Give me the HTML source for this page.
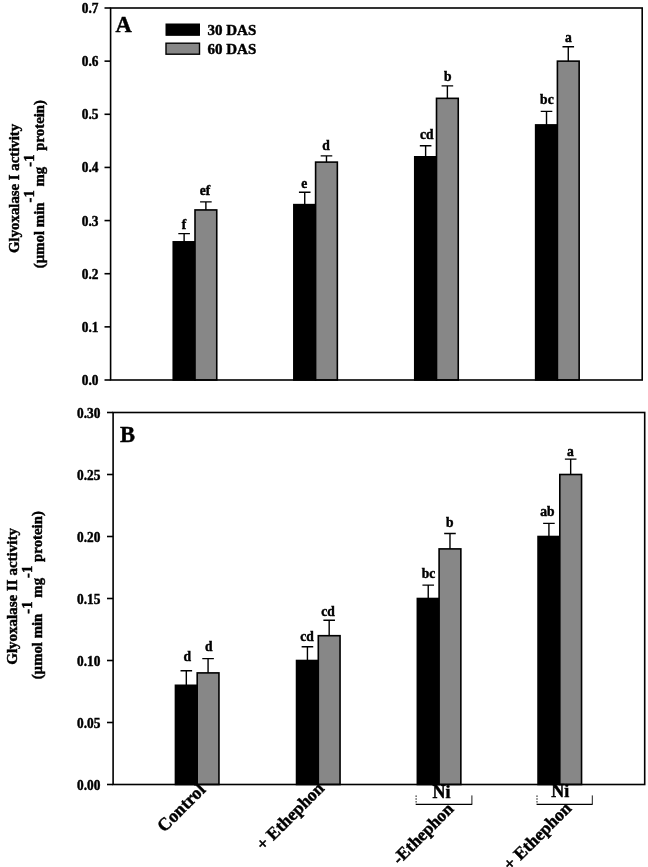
<!DOCTYPE html>
<html><head><meta charset="utf-8"><title>Glyoxalase activity</title>
<style>html,body{margin:0;padding:0;background:#fff;}body{width:648px;height:867px;overflow:hidden;}svg{display:block;filter:grayscale(1);}text{font-family:"Liberation Serif",serif;font-weight:bold;fill:#000;stroke:#000;stroke-width:0.45px;}</style>
</head><body>
<svg width="648" height="867" viewBox="0 0 648 867">
<rect x="0" y="0" width="648" height="867" fill="#fff"/>
<path d="M184.12 241.83V233.6M178.32 233.6H189.93" stroke="#000" stroke-width="1.4" fill="none"/>
<rect x="173.25" y="241.83" width="21.75" height="138.17" fill="#000" stroke="#000" stroke-width="1.6"/>
<text transform="translate(183.9 229.2) scale(0.95 1)" font-size="14.3" text-anchor="middle">f</text>
<path d="M205.88 209.94V201.9M200.07 201.9H211.68" stroke="#000" stroke-width="1.4" fill="none"/>
<rect x="195" y="209.94" width="21.75" height="170.06" fill="#878787" stroke="#000" stroke-width="1.6"/>
<text transform="translate(205 194.7) scale(0.95 1)" font-size="14.3" text-anchor="middle">ef</text>
<path d="M304.73 204.63V192.3M298.93 192.3H310.53" stroke="#000" stroke-width="1.4" fill="none"/>
<rect x="293.85" y="204.63" width="21.75" height="175.37" fill="#000" stroke="#000" stroke-width="1.6"/>
<text transform="translate(304.3 188) scale(0.95 1)" font-size="14.3" text-anchor="middle">e</text>
<path d="M326.48 162.11V155.9M320.68 155.9H332.28" stroke="#000" stroke-width="1.4" fill="none"/>
<rect x="315.6" y="162.11" width="21.75" height="217.89" fill="#878787" stroke="#000" stroke-width="1.6"/>
<text transform="translate(326.1 150) scale(0.95 1)" font-size="14.3" text-anchor="middle">d</text>
<path d="M425.62 156.8V145.8M419.82 145.8H431.43" stroke="#000" stroke-width="1.4" fill="none"/>
<rect x="414.75" y="156.8" width="21.75" height="223.2" fill="#000" stroke="#000" stroke-width="1.6"/>
<text transform="translate(426.8 139.4) scale(0.95 1)" font-size="14.3" text-anchor="middle">cd</text>
<path d="M447.38 98.34V85.9M441.57 85.9H453.18" stroke="#000" stroke-width="1.4" fill="none"/>
<rect x="436.5" y="98.34" width="21.75" height="281.66" fill="#878787" stroke="#000" stroke-width="1.6"/>
<text transform="translate(447.7 81.2) scale(0.95 1)" font-size="14.3" text-anchor="middle">b</text>
<path d="M546.52 124.91V111.4M540.73 111.4H552.32" stroke="#000" stroke-width="1.4" fill="none"/>
<rect x="535.65" y="124.91" width="21.75" height="255.09" fill="#000" stroke="#000" stroke-width="1.6"/>
<text transform="translate(546.9 104.1) scale(0.95 1)" font-size="14.3" text-anchor="middle">bc</text>
<path d="M568.27 61.14V46.8M562.48 46.8H574.07" stroke="#000" stroke-width="1.4" fill="none"/>
<rect x="557.4" y="61.14" width="21.75" height="318.86" fill="#878787" stroke="#000" stroke-width="1.6"/>
<text transform="translate(568.5 42) scale(0.95 1)" font-size="14.3" text-anchor="middle">a</text>
<rect x="110.6" y="8" width="531.6" height="372" fill="none" stroke="#000" stroke-width="1.6"/>
<path d="M104.5 380H110.6" stroke="#000" stroke-width="1.6"/>
<text transform="translate(98.4 385) scale(0.975 1)" font-size="13.7" text-anchor="end">0.0</text>
<path d="M104.5 326.86H110.6" stroke="#000" stroke-width="1.6"/>
<text transform="translate(98.4 331.86) scale(0.975 1)" font-size="13.7" text-anchor="end">0.1</text>
<path d="M104.5 273.71H110.6" stroke="#000" stroke-width="1.6"/>
<text transform="translate(98.4 278.71) scale(0.975 1)" font-size="13.7" text-anchor="end">0.2</text>
<path d="M104.5 220.57H110.6" stroke="#000" stroke-width="1.6"/>
<text transform="translate(98.4 225.57) scale(0.975 1)" font-size="13.7" text-anchor="end">0.3</text>
<path d="M104.5 167.43H110.6" stroke="#000" stroke-width="1.6"/>
<text transform="translate(98.4 172.43) scale(0.975 1)" font-size="13.7" text-anchor="end">0.4</text>
<path d="M104.5 114.29H110.6" stroke="#000" stroke-width="1.6"/>
<text transform="translate(98.4 119.29) scale(0.975 1)" font-size="13.7" text-anchor="end">0.5</text>
<path d="M104.5 61.14H110.6" stroke="#000" stroke-width="1.6"/>
<text transform="translate(98.4 66.14) scale(0.975 1)" font-size="13.7" text-anchor="end">0.6</text>
<path d="M104.5 8H110.6" stroke="#000" stroke-width="1.6"/>
<text transform="translate(98.4 13) scale(0.975 1)" font-size="13.7" text-anchor="end">0.7</text>
<path d="M186.32 685.3V670.7M180.52 670.7H192.12" stroke="#000" stroke-width="1.4" fill="none"/>
<rect x="175.45" y="685.3" width="21.75" height="99.2" fill="#000" stroke="#000" stroke-width="1.6"/>
<text transform="translate(187.3 660.9) scale(0.95 1)" font-size="14.3" text-anchor="middle">d</text>
<path d="M208.07 672.9V658.6M202.27 658.6H213.88" stroke="#000" stroke-width="1.4" fill="none"/>
<rect x="197.2" y="672.9" width="21.75" height="111.6" fill="#878787" stroke="#000" stroke-width="1.6"/>
<text transform="translate(208.8 651.2) scale(0.95 1)" font-size="14.3" text-anchor="middle">d</text>
<path d="M307.43 660.5V646.8M301.62 646.8H313.23" stroke="#000" stroke-width="1.4" fill="none"/>
<rect x="296.55" y="660.5" width="21.75" height="124" fill="#000" stroke="#000" stroke-width="1.6"/>
<text transform="translate(307 641.2) scale(0.95 1)" font-size="14.3" text-anchor="middle">cd</text>
<path d="M329.18 635.7V620.2M323.38 620.2H334.98" stroke="#000" stroke-width="1.4" fill="none"/>
<rect x="318.3" y="635.7" width="21.75" height="148.8" fill="#878787" stroke="#000" stroke-width="1.6"/>
<text transform="translate(328.1 615.7) scale(0.95 1)" font-size="14.3" text-anchor="middle">cd</text>
<path d="M428.23 598.5V585.1M422.43 585.1H434.03" stroke="#000" stroke-width="1.4" fill="none"/>
<rect x="417.35" y="598.5" width="21.75" height="186" fill="#000" stroke="#000" stroke-width="1.6"/>
<text transform="translate(428.6 578.2) scale(0.95 1)" font-size="14.3" text-anchor="middle">bc</text>
<path d="M449.98 548.9V533.5M444.18 533.5H455.78" stroke="#000" stroke-width="1.4" fill="none"/>
<rect x="439.1" y="548.9" width="21.75" height="235.6" fill="#878787" stroke="#000" stroke-width="1.6"/>
<text transform="translate(449.8 527.4) scale(0.95 1)" font-size="14.3" text-anchor="middle">b</text>
<path d="M548.92 536.5V523.4M543.12 523.4H554.72" stroke="#000" stroke-width="1.4" fill="none"/>
<rect x="538.05" y="536.5" width="21.75" height="248" fill="#000" stroke="#000" stroke-width="1.6"/>
<text transform="translate(547.5 516.1) scale(0.95 1)" font-size="14.3" text-anchor="middle">ab</text>
<path d="M570.67 474.5V459.1M564.88 459.1H576.47" stroke="#000" stroke-width="1.4" fill="none"/>
<rect x="559.8" y="474.5" width="21.75" height="310" fill="#878787" stroke="#000" stroke-width="1.6"/>
<text transform="translate(570.5 455.6) scale(0.95 1)" font-size="14.3" text-anchor="middle">a</text>
<rect x="113.1" y="412.5" width="531.6" height="372" fill="none" stroke="#000" stroke-width="1.6"/>
<path d="M107 784.5H113.1" stroke="#000" stroke-width="1.6"/>
<text transform="translate(100.4 789.9) scale(0.975 1)" font-size="13.7" text-anchor="end">0.00</text>
<path d="M107 722.5H113.1" stroke="#000" stroke-width="1.6"/>
<text transform="translate(100.4 727.9) scale(0.975 1)" font-size="13.7" text-anchor="end">0.05</text>
<path d="M107 660.5H113.1" stroke="#000" stroke-width="1.6"/>
<text transform="translate(100.4 665.9) scale(0.975 1)" font-size="13.7" text-anchor="end">0.10</text>
<path d="M107 598.5H113.1" stroke="#000" stroke-width="1.6"/>
<text transform="translate(100.4 603.9) scale(0.975 1)" font-size="13.7" text-anchor="end">0.15</text>
<path d="M107 536.5H113.1" stroke="#000" stroke-width="1.6"/>
<text transform="translate(100.4 541.9) scale(0.975 1)" font-size="13.7" text-anchor="end">0.20</text>
<path d="M107 474.5H113.1" stroke="#000" stroke-width="1.6"/>
<text transform="translate(100.4 479.9) scale(0.975 1)" font-size="13.7" text-anchor="end">0.25</text>
<path d="M107 412.5H113.1" stroke="#000" stroke-width="1.6"/>
<text transform="translate(100.4 417.9) scale(0.975 1)" font-size="13.7" text-anchor="end">0.30</text>
<text x="115.5" y="32.3" font-size="22.5">A</text>
<text x="120" y="442.2" font-size="22.5">B</text>
<rect x="166" y="24" width="33.5" height="11.3" fill="#000" stroke="#000" stroke-width="1"/>
<rect x="166" y="43.2" width="33.5" height="11" fill="#878787" stroke="#000" stroke-width="1.4"/>
<text x="207.5" y="35" font-size="15">30 DAS</text>
<text x="207.5" y="53.9" font-size="15">60 DAS</text>
<text transform="translate(19 188.4) rotate(-90)" font-size="14.8" text-anchor="middle">Glyoxalase I activity</text>
<text transform="translate(44.2 184.1) rotate(-90)" font-size="14.8" text-anchor="middle">(µmol min<tspan dy="-10.5">-1</tspan><tspan dy="10.5"> mg</tspan><tspan dy="-10.5">-1</tspan><tspan dy="10.5"> protein)</tspan></text>
<text transform="translate(16.7 596.4) rotate(-90)" font-size="15" text-anchor="middle">Glyoxalase II activity</text>
<text transform="translate(42.3 595.25) rotate(-90)" font-size="14.8" text-anchor="middle">(µmol min<tspan dy="-10.5">-1</tspan><tspan dy="10.5"> mg</tspan><tspan dy="-10.5">-1</tspan><tspan dy="10.5"> protein)</tspan></text>
<text transform="translate(206.5 790.8) rotate(-45)" font-size="18" text-anchor="end">Control</text>
<text transform="translate(325.2 789.3) rotate(-45)" font-size="17.6" text-anchor="end">+ Ethephon</text>
<text transform="translate(454.6 809.9) rotate(-45)" font-size="17.4" text-anchor="end">-Ethephon</text>
<text transform="translate(572.4 809.25) rotate(-45)" font-size="17.6" text-anchor="end">+ Ethephon</text>
<path d="M415.8 804.4H472.2" stroke="#000" stroke-width="1.3"/>
<path d="M416.1 795.4V804.4" stroke="#000" stroke-width="0.9" stroke-dasharray="1.6 1.2"/>
<path d="M471.9 795.4V804.4" stroke="#000" stroke-width="0.9"/>
<text x="441.5" y="797.7" font-size="18" text-anchor="middle">Ni</text>
<path d="M536.7 804.4H592.6" stroke="#000" stroke-width="1.3"/>
<path d="M537 795.4V804.4" stroke="#000" stroke-width="0.9" stroke-dasharray="1.6 1.2"/>
<path d="M592.3 795.4V804.4" stroke="#000" stroke-width="0.9"/>
<text x="560.2" y="796.7" font-size="18" text-anchor="middle">Ni</text>
</svg></body></html>
